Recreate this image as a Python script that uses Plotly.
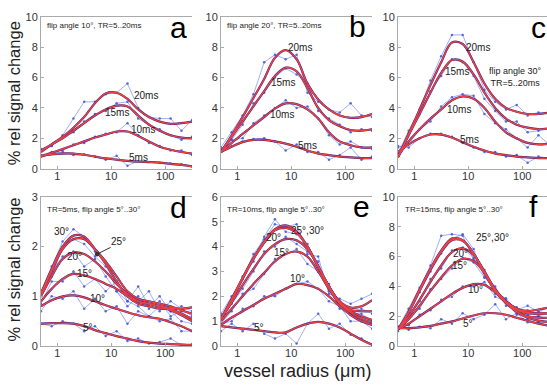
import math
import plotly.graph_objects as go

# ---------------- data ----------------
RADII = [0.5, 0.79, 1.26, 2.0, 3.16, 5.0, 7.9, 12.6, 20, 31.6, 50, 79, 126, 200, 316]
X_TICKS = [1, 10, 100]
X_TICK_TEXT = ["1", "10", "100"]

# panel a: flip angle 10 deg, TR 5..20 ms
A_LABELS = ["20ms", "15ms", "10ms", "5ms"]
A_FIT = [
    [1.1, 1.6, 2.1, 2.7, 3.4, 4.3, 4.95, 5.0, 4.6, 3.9, 3.4, 3.1, 2.95, 3.0, 3.1],
    [1.2, 1.6, 2.0, 2.5, 3.0, 3.5, 3.9, 4.15, 4.1, 3.5, 2.9, 2.5, 2.2, 2.05, 2.0],
    [0.8, 1.05, 1.3, 1.55, 1.8, 2.05, 2.25, 2.45, 2.45, 2.15, 1.8, 1.45, 1.25, 1.1, 1.0],
    [0.85, 0.95, 1.0, 1.0, 0.92, 0.8, 0.68, 0.6, 0.52, 0.47, 0.44, 0.4, 0.32, 0.25, 0.15],
]
A_RAW = [
    [1.2, 1.5, 2.2, 3.3, 4.4, 4.4, 4.9, 5.0, 5.6, 4.0, 3.4, 3.3, 3.3, 2.5, 3.2],
    [1.3, 1.5, 2.1, 2.4, 3.1, 3.6, 3.8, 4.3, 4.4, 3.3, 2.9, 2.6, 2.2, 1.9, 2.1],
    [0.9, 1.1, 1.2, 1.6, 1.7, 2.1, 2.3, 2.4, 3.0, 2.2, 1.7, 1.5, 1.2, 1.2, 0.9],
    [0.8, 1.0, 1.1, 0.9, 0.95, 0.8, 0.6, 0.85, 0.2, 0.5, 0.45, 0.4, 0.35, 0.3, 0.15],
]
A_LABEL_POS = [(45, 4.8), (13, 3.7), (39, 2.6), (32, 0.75)]

# panel b: flip angle 20 deg
B_LABELS = ["20ms", "15ms", "10ms", "5ms"]
B_FIT = [
    [1.1, 2.2, 3.4, 4.65, 5.9, 7.3, 7.8, 7.2, 5.6, 4.55, 3.9, 3.5, 3.35, 3.4, 3.6],
    [1.1, 2.1, 3.1, 4.1, 5.1, 6.1, 6.65, 6.4, 5.3, 4.0, 3.2, 2.8, 2.55, 2.5, 2.6],
    [1.1, 1.7, 2.3, 2.85, 3.4, 3.95, 4.3, 4.25, 3.9, 3.3, 2.4, 1.8, 1.55, 1.4, 1.4],
    [1.1, 1.45, 1.75, 1.9, 1.9, 1.8, 1.65, 1.45, 1.2, 1.0, 0.9, 0.8, 0.75, 0.7, 0.7],
]
B_RAW = [
    [1.4, 2.4, 3.5, 4.9, 7.0, 7.5, 7.2, 7.5, 5.0, 4.4, 3.9, 3.7, 4.3, 3.5, 3.4],
    [1.3, 1.9, 2.9, 4.3, 5.0, 6.0, 6.6, 6.2, 5.6, 3.8, 3.3, 2.9, 2.4, 2.6, 2.5],
    [1.1, 1.9, 2.0, 3.0, 3.5, 4.0, 4.5, 4.0, 4.1, 3.3, 2.2, 1.6, 1.8, 1.4, 1.3],
    [1.2, 1.5, 1.8, 1.95, 2.0, 1.8, 1.2, 1.6, 1.1, 1.1, 0.6, 0.9, 1.4, 0.6, 0.8],
]
B_LABEL_POS = [(14.5, 8.0), (7, 5.7), (6.8, 3.6), (20, 1.5)]

# panel c: flip angle 30 deg
C_LABELS = ["20ms", "15ms", "10ms", "5ms"]
C_FIT = [
    [0.75, 2.3, 3.9, 5.5, 7.0, 8.3, 8.2, 7.0, 5.6, 4.6, 4.0, 3.75, 3.6, 3.6, 3.7],
    [0.75, 2.2, 3.6, 5.0, 6.3, 7.15, 7.05, 6.2, 5.0, 4.0, 3.3, 2.9, 2.7, 2.6, 2.65],
    [0.8, 1.8, 2.6, 3.3, 3.9, 4.5, 4.75, 4.6, 4.0, 3.1, 2.4, 2.0, 1.7, 1.6, 1.65],
    [1.1, 1.6, 2.0, 2.25, 2.25, 2.05, 1.75, 1.45, 1.2, 1.0, 0.9, 0.8, 0.75, 0.7, 0.7],
]
C_RAW = [
    [1.0, 2.5, 3.9, 5.8, 7.4, 8.8, 8.8, 7.0, 5.2, 4.4, 3.9, 4.2, 3.5, 3.7, 3.6],
    [0.9, 2.3, 3.6, 5.1, 6.1, 7.2, 7.0, 6.1, 4.6, 3.8, 3.1, 3.1, 2.4, 2.5, 2.7],
    [1.4, 1.6, 2.6, 3.1, 4.1, 4.7, 4.9, 4.8, 3.6, 3.0, 2.6, 2.0, 1.4, 2.2, 1.6],
    [1.5, 1.4, 2.0, 2.3, 2.3, 2.1, 1.7, 1.4, 1.1, 1.1, 0.8, 0.9, 0.4, 0.8, 0.7],
]
C_LABEL_POS = [(15, 8.0), (6.2, 6.4), (6.8, 3.9), (10.7, 1.9)]

# panel d: TR 5 ms, flip angle 5..30 deg
D_LABELS = ["30°", "25°", "20°", "15°", "10°", "5°"]
D_FIT = [
    [1.05, 1.55, 2.0, 2.22, 2.2, 1.95, 1.65, 1.3, 1.0, 0.85, 0.8, 0.75, 0.75, 0.75, 0.78],
    [1.05, 1.5, 1.95, 2.15, 2.15, 1.95, 1.7, 1.4, 1.1, 0.95, 0.9, 0.85, 0.8, 0.72, 0.65],
    [1.0, 1.4, 1.75, 1.88, 1.85, 1.7, 1.5, 1.25, 1.05, 0.9, 0.85, 0.8, 0.75, 0.65, 0.55],
    [0.9, 1.15, 1.35, 1.45, 1.42, 1.35, 1.25, 1.15, 1.0, 0.9, 0.85, 0.8, 0.72, 0.62, 0.5],
    [0.8, 0.92, 1.0, 1.02, 0.98, 0.9, 0.82, 0.75, 0.68, 0.62, 0.58, 0.55, 0.48, 0.4, 0.3],
    [0.45, 0.46, 0.46, 0.45, 0.4, 0.32, 0.26, 0.2, 0.15, 0.1, 0.07, 0.05, 0.04, 0.03, 0.02],
]
D_RAW = [
    [1.1, 1.6, 2.1, 2.35, 2.2, 1.9, 1.7, 1.1, 0.9, 1.2, 0.8, 1.0, 0.7, 0.8, 0.7],
    [1.0, 1.4, 2.0, 2.15, 2.05, 1.8, 1.6, 1.3, 1.0, 0.9, 1.1, 0.7, 0.9, 0.75, 0.6],
    [1.05, 1.5, 1.8, 1.9, 1.6, 1.75, 1.4, 1.1, 0.8, 1.0, 0.75, 0.9, 0.6, 0.7, 0.5],
    [0.85, 1.3, 1.3, 1.5, 1.2, 1.35, 1.1, 1.3, 0.9, 0.8, 0.6, 0.8, 0.7, 0.5, 0.45],
    [0.7, 1.0, 0.95, 1.1, 0.75, 0.95, 0.7, 0.8, 0.45, 0.7, 0.6, 0.5, 0.55, 0.3, 0.3],
    [0.45, 0.4, 0.5, 0.45, 0.3, 0.4, 0.2, 0.3, 0.1, 0.15, 0.05, 0.08, 0.15, 0.02, 0.04],
]
D_LABEL_POS = [(1.2, 2.3), None, (2.1, 1.8), (3.2, 1.46), (5.5, 0.96), (3.7, 0.37)]
D_ARROW_LABEL = (11.7, 2.05)
D_ARROW_HEAD = (5.5, 1.85)

# panel e: TR 10 ms
E_LABELS = ["30°", "25°", "20°", "15°", "10°", "5°"]
E_FIT = [
    [1.1, 1.9, 2.75, 3.55, 4.2, 4.7, 4.85, 4.6, 4.0, 3.2, 2.4, 1.8, 1.55, 1.6, 1.85],
    [1.1, 1.85, 2.7, 3.5, 4.15, 4.65, 4.75, 4.55, 4.0, 3.2, 2.4, 1.75, 1.45, 1.4, 1.4],
    [1.1, 1.75, 2.45, 3.1, 3.7, 4.1, 4.3, 4.25, 3.9, 3.2, 2.4, 1.75, 1.4, 1.2, 1.05],
    [1.0, 1.5, 2.0, 2.5, 2.95, 3.4, 3.7, 3.8, 3.6, 3.0, 2.3, 1.7, 1.35, 1.1, 0.95],
    [0.85, 1.15, 1.4, 1.65, 1.9, 2.1, 2.3, 2.5, 2.45, 2.3, 2.0, 1.6, 1.25, 1.0, 0.85],
    [0.8, 0.75, 0.7, 0.65, 0.6, 0.55, 0.55, 0.75, 0.9, 0.97, 0.9, 0.75, 0.5, 0.25, 0.05],
]
E_RAW = [
    [1.3, 2.0, 2.7, 3.7, 4.3, 4.9, 4.8, 4.9, 3.7, 3.6, 2.1, 1.9, 1.7, 1.9, 2.1],
    [1.2, 1.8, 2.8, 3.4, 4.4, 5.1, 4.6, 4.5, 4.1, 3.0, 2.5, 1.5, 1.4, 1.5, 1.3],
    [1.1, 1.7, 2.3, 3.0, 3.8, 4.0, 4.4, 4.1, 3.8, 3.4, 2.2, 1.8, 1.3, 1.3, 1.0],
    [0.9, 1.4, 2.1, 2.3, 2.9, 3.5, 3.7, 3.9, 3.3, 3.0, 2.3, 1.6, 1.4, 1.0, 0.9],
    [0.9, 1.0, 1.5, 1.6, 2.0, 2.0, 2.3, 2.5, 2.6, 2.3, 1.8, 1.6, 1.0, 1.0, 0.7],
    [0.6, 0.9, 0.6, 0.9, 0.5, 0.3, 0.5, 0.1, 0.9, 1.3, 0.7, 0.9, 0.45, 0.3, 0.05],
]
E_LABEL_POS = [(20, 4.63), None, (4.8, 4.36), (6.7, 3.78), (13, 2.7), (2.5, 0.74)]
E_LABEL_TEXT = ["25°,30°", None, "20°", "15°", "10°", "5°"]

# panel f: TR 15 ms
F_LABELS = ["30°", "25°", "20°", "15°", "10°", "5°"]
F_FIT = [
    [1.1, 2.3, 3.8, 5.2, 6.4, 7.2, 7.1, 6.2, 4.9, 3.7, 3.0, 2.5, 2.35, 2.45, 2.6],
    [1.1, 2.25, 3.7, 5.1, 6.3, 7.1, 7.05, 6.2, 4.9, 3.7, 2.9, 2.4, 2.2, 2.2, 2.2],
    [1.1, 2.0, 3.1, 4.3, 5.4, 6.3, 6.55, 6.1, 5.0, 3.8, 3.0, 2.5, 2.25, 2.15, 2.2],
    [1.1, 1.8, 2.7, 3.7, 4.6, 5.4, 5.85, 5.7, 4.9, 3.8, 2.9, 2.3, 2.0, 1.9, 1.9],
    [1.15, 1.5, 2.0, 2.5, 3.0, 3.5, 3.9, 4.15, 4.1, 3.6, 2.9, 2.3, 1.9, 1.7, 1.6],
    [1.2, 1.2, 1.25, 1.35, 1.5, 1.65, 1.85, 2.05, 2.2, 2.2, 2.1, 1.9, 1.7, 1.5, 1.35],
]
F_RAW = [
    [1.2, 2.5, 3.9, 5.4, 7.4, 7.5, 7.4, 5.8, 5.1, 3.5, 3.1, 2.4, 2.7, 2.3, 2.6],
    [1.1, 2.3, 3.6, 5.0, 6.2, 7.2, 7.5, 6.5, 4.6, 3.8, 2.9, 2.6, 2.1, 2.3, 2.2],
    [1.3, 2.0, 3.0, 4.5, 5.2, 6.4, 6.6, 5.9, 4.9, 3.6, 3.2, 2.4, 2.4, 2.0, 2.3],
    [1.0, 1.9, 2.5, 3.8, 4.5, 5.2, 5.9, 5.6, 4.6, 4.0, 2.7, 2.5, 1.8, 2.0, 1.8],
    [1.2, 1.4, 2.1, 2.4, 3.1, 3.3, 4.0, 4.0, 4.3, 3.3, 3.0, 2.1, 2.0, 1.6, 1.7],
    [1.3, 1.1, 1.3, 1.2, 1.8, 1.5, 2.2, 1.8, 2.1, 2.8, 1.8, 2.2, 1.6, 1.6, 1.3],
]
F_LABEL_POS = [(28, 7.3), None, (7.1, 6.2), (7.0, 5.4), (13.5, 3.77), (9.8, 1.5)]

PANEL_TITLES = ["flip angle 10°, TR=5..20ms", "flip angle 20°, TR=5..20ms", None,
                "TR=5ms, flip angle 5°..30°", "TR=10ms, flip angle 5°..30°",
                "TR=15ms, flip angle 5°..30°"]
PANEL_LETTERS = ["a", "b", "c", "d", "e", "f"]
Y_MAX = [10, 10, 10, 3, 6, 10]
Y_DTICK = [2, 2, 2, 1, 1, 2]

# ---------------- layout helpers ----------------
W, H = 547, 385
FONT = "Arial, Liberation Sans, sans-serif"
RED = "rgb(236,66,66)"
NAVY = "rgb(70,35,120)"
BLUE = "rgba(95,120,235,0.75)"
AX_COLOR = "#aaaaaa"


def px_x(p):
    return p / W


def px_y(p):
    return 1 - p / H


# pixel boxes: (left, right, top, bottom)
BOXES = [(41, 192, 11, 168), (221, 372, 11, 168), (398, 547, 11, 168),
         (41, 192, 197, 351), (221, 372, 197, 351), (398, 547, 197, 351)]
LETTER_PX = [(178, 22), (357, 21), (538, 22), (178, 208), (361, 207), (533, 207)]
TITLE_PX = [(45, 20), (225, 20), None, (45, 210), (225, 210), (403, 210)]

panels = [
    (A_LABELS, A_FIT, A_RAW, A_LABEL_POS, A_LABELS),
    (B_LABELS, B_FIT, B_RAW, B_LABEL_POS, B_LABELS),
    (C_LABELS, C_FIT, C_RAW, C_LABEL_POS, C_LABELS),
    (D_LABELS, D_FIT, D_RAW, D_LABEL_POS, D_LABELS),
    (E_LABELS, E_FIT, E_RAW, E_LABEL_POS, E_LABEL_TEXT),
    (F_LABELS, F_FIT, F_RAW, F_LABEL_POS, E_LABEL_TEXT),
]

fig = go.Figure()
annotations = []
layout_axes = {}

for i, (labels, fits, raws, lpos, ltext) in enumerate(panels):
    suffix = "" if i == 0 else str(i + 1)
    xr, yr = "x" + suffix, "y" + suffix
    left, right, top, bottom = BOXES[i]
    x_end = -0.3 + (right - left) / 54.0

    for raw in raws:
        fig.add_trace(go.Scatter(x=RADII, y=raw, mode="lines+markers", xaxis=xr, yaxis=yr,
                                 line=dict(color=BLUE, width=0.8),
                                 marker=dict(size=2.5, color="rgba(70,90,220,0.9)"),
                                 showlegend=False, hoverinfo="skip"))
    for fit in fits:
        fig.add_trace(go.Scatter(x=RADII, y=fit, mode="lines", xaxis=xr, yaxis=yr,
                                 line=dict(color=NAVY, width=2.2, shape="spline", smoothing=1.0),
                                 showlegend=False, hoverinfo="skip"))
    for fit in fits:
        fig.add_trace(go.Scatter(x=RADII, y=fit, mode="lines", xaxis=xr, yaxis=yr,
                                 line=dict(color=RED, width=1.4, shape="spline", smoothing=1.0),
                                 showlegend=False, hoverinfo="skip"))

    layout_axes["xaxis" + suffix] = dict(
        type="log", range=[-0.3, x_end], domain=[px_x(left), min(1.0, px_x(right))],
        anchor=yr, tickvals=X_TICKS, ticktext=X_TICK_TEXT, showgrid=False, zeroline=False,
        showline=True, linecolor=AX_COLOR, linewidth=1, mirror=True, ticks="inside",
        ticklen=3, tickcolor=AX_COLOR, ticklabelstandoff=-3,
        tickfont=dict(family=FONT, size=11, color="#333"))
    layout_axes["yaxis" + suffix] = dict(
        range=[0, Y_MAX[i]], domain=[px_y(bottom), px_y(top)], anchor=xr, dtick=Y_DTICK[i],
        showgrid=False, zeroline=False, showline=True, linecolor=AX_COLOR, linewidth=1,
        ticks="inside", ticklen=3, tickcolor=AX_COLOR,
        tickfont=dict(family=FONT, size=11, color="#333"))

    for pos, txt in zip(lpos, ltext):
        if pos is None or txt is None:
            continue
        annotations.append(dict(x=math.log10(pos[0]), y=pos[1], xref=xr, yref=yr, text=txt,
                                xanchor="center", yanchor="middle",
                                showarrow=False, font=dict(family=FONT, size=10, color="#222")))

    lx, ly = LETTER_PX[i]
    annotations.append(dict(x=px_x(lx), y=px_y(ly), xref="paper", yref="paper",
                            xanchor="center", yanchor="middle",
                            text=PANEL_LETTERS[i], showarrow=False,
                            font=dict(family=FONT, size=30, color="black")))
    if PANEL_TITLES[i]:
        tx, ty = TITLE_PX[i]
        annotations.append(dict(x=px_x(tx), y=px_y(ty), xref="paper", yref="paper",
                                xanchor="left", yanchor="middle", text=PANEL_TITLES[i],
                                showarrow=False, font=dict(family=FONT, size=8, color="#222")))

# panel c side note
annotations.append(dict(x=math.log10(74), y=6.0, xref="x3", yref="y3",
                        xanchor="center", yanchor="middle",
                        text="flip angle 30°<br>TR=5..20ms", showarrow=False,
                        font=dict(family=FONT, size=9, color="#222")))
# panel d arrow to 25 deg curve
annotations.append(dict(x=math.log10(D_ARROW_HEAD[0]), y=D_ARROW_HEAD[1], xref="x4", yref="y4",
                        ax=math.log10(D_ARROW_LABEL[0]) - 0.05, ay=D_ARROW_LABEL[1] - 0.05,
                        axref="x4", ayref="y4",
                        text="", showarrow=True, arrowhead=6, arrowsize=1.2, arrowwidth=1,
                        arrowcolor="#333"))
annotations.append(dict(x=math.log10(D_ARROW_LABEL[0]) + 0.06, y=D_ARROW_LABEL[1] + 0.05,
                        xref="x4", yref="y4", text="25°", showarrow=False,
                        xanchor="center", yanchor="middle",
                        font=dict(family=FONT, size=10, color="#222")))

# axis titles
for cy in (90, 272):
    annotations.append(dict(x=px_x(14), y=px_y(cy), xref="paper", yref="paper",
                            xanchor="center", yanchor="middle",
                            text="% rel signal change", textangle=-90, showarrow=False,
                            font=dict(family=FONT, size=16.5, color="#222")))
annotations.append(dict(x=px_x(298), y=px_y(377), xref="paper", yref="paper",
                        xanchor="center", yanchor="middle",
                        text="vessel radius (μm)", showarrow=False,
                        font=dict(family=FONT, size=18, color="#222")))

fig.update_layout(width=W, height=H, margin=dict(l=0, r=0, t=0, b=0),
                  paper_bgcolor="white", plot_bgcolor="white",
                  annotations=annotations, showlegend=False, **layout_axes)

fig.write_html("out.html", config={"displayModeBar": False})

# remove the browser's default page margin so the figure sits at the window origin
with open("out.html", "r", encoding="utf-8") as fh:
    html = fh.read()
html = html.replace("<head>", "<head><style>html,body{margin:0;padding:0;overflow:hidden;}</style>", 1)
with open("out.html", "w", encoding="utf-8") as fh:
    fh.write(html)
